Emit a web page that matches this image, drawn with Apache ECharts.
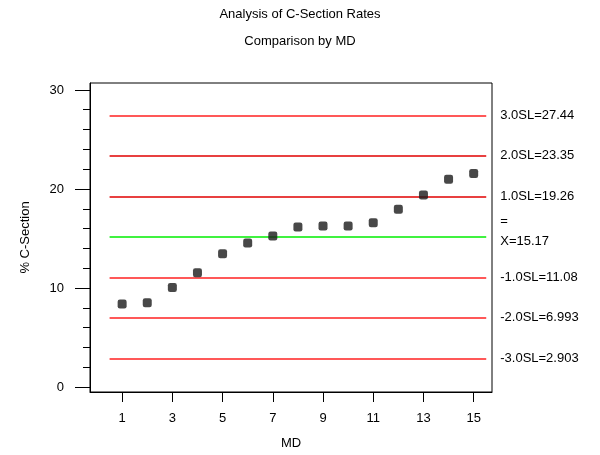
<!DOCTYPE html>
<html>
<head>
<meta charset="utf-8">
<script src="https://cdn.jsdelivr.net/npm/echarts@6/dist/echarts.min.js"></script>
<style>
  html, body { margin: 0; padding: 0; background: #fff; }
  #chart { width: 600px; height: 455px; }
</style>
</head>
<body>
<div id="chart"></div>
<script>
// rates per MD
const mds = [1, 2, 3, 4, 5, 6, 7, 8, 9, 10, 11, 12, 13, 14, 15]
const rates = [8.38, 8.52, 10.06, 11.55, 13.46, 14.54, 15.25, 16.16, 16.26, 16.26, 16.6, 17.94, 19.39, 20.97, 21.55]

// sigma limits (the centre one gets the X-double-bar label)
const limitNames = ['3.0SL', '2.0SL', '1.0SL', 'X', '-1.0SL', '-2.0SL', '-3.0SL']
const limitValues = [27.44, 23.35, 19.26, 15.17, 11.08, 6.993, 2.903]
const limitColors = ['#ff2020', '#e00000', '#e00000', '#00ee00', '#ff2020', '#ff2020', '#ff2020']

const xTicks = [1, 3, 5, 7, 9, 11, 13, 15]
const yMajor = [0, 10, 20, 30]
const yMinor = [2, 4, 6, 8, 12, 14, 16, 18, 22, 24, 26, 28]

const font = 'Liberation Sans, Arial, sans-serif'
const black = '#000'

// one empty series per limit, so each markLine keeps its own colour
const limitSeries = limitValues.map((v, i) => {
  const isMean = limitNames[i] === 'X'
  const s = {
    type: 'scatter',
    data: [],
    markLine: {
      silent: true,
      symbol: 'none',
      lineStyle: { type: 'solid', width: 1.5, color: limitColors[i] },
      label: {
        position: 'end',
        distance: 14,
        offset: isMean ? [0, 5] : [0, 0],
        formatter: limitNames[i] + '=' + v,
        fontFamily: font,
        fontSize: 13,
        color: black
      },
      data: [[{ coord: [0.5, v] }, { coord: [15.5, v] }]]
    }
  }
  if (isMean) {
    // double bar over the X
    s.markPoint = {
      silent: true,
      symbol: 'circle',
      symbolSize: 0,
      label: {
        show: true,
        position: 'right',
        distance: 14,
        offset: [0, -15],
        formatter: '=',
        fontFamily: font,
        fontSize: 13,
        color: black
      },
      data: [{ coord: [15.5, v] }]
    }
  }
  return s
})

const chart = echarts.init(document.getElementById('chart'))

chart.setOption({
  animation: false,
  title: {
    text: 'Analysis of C-Section Rates',
    subtext: 'Comparison by MD',
    left: 'center',
    top: 3,
    itemGap: 14,
    textStyle: { fontFamily: font, fontSize: 13, fontWeight: 'normal', color: black },
    subtextStyle: { fontFamily: font, fontSize: 13, color: black }
  },
  grid: {
    left: 90, right: 108, top: 83, bottom: 62,
    show: true, borderColor: black, borderWidth: 1
  },
  xAxis: {
    type: 'value',
    min: -0.28,
    max: 15.73,
    name: 'MD',
    nameLocation: 'middle',
    nameGap: 45,
    nameTextStyle: { fontFamily: font, fontSize: 13, color: black },
    axisLine: { onZero: false, lineStyle: { color: black } },
    axisTick: { customValues: xTicks, length: 10, lineStyle: { color: black } },
    axisLabel: { customValues: xTicks, margin: 20, fontFamily: font, fontSize: 13, color: black },
    splitLine: { show: false }
  },
  yAxis: [
    {
      type: 'value',
      min: -0.5,
      max: 30.7,
      name: '% C-Section',
      nameLocation: 'middle',
      nameGap: 58,
      nameTextStyle: { fontFamily: font, fontSize: 13, color: black },
      axisLine: { show: true, onZero: false, lineStyle: { color: black } },
      axisTick: { customValues: yMajor, length: 15, lineStyle: { color: black } },
      axisLabel: { customValues: yMajor, margin: 26, fontFamily: font, fontSize: 13, color: black },
      splitLine: { show: false }
    },
    {
      type: 'value',
      position: 'left',
      min: -0.5,
      max: 30.7,
      axisLine: { show: false, onZero: false },
      axisTick: { customValues: yMinor, length: 7, lineStyle: { color: black } },
      axisLabel: { show: false },
      splitLine: { show: false }
    }
  ],
  series: [
    {
      type: 'scatter',
      data: mds.map((md, i) => [md, rates[i]]),
      symbol: 'roundRect',
      symbolSize: 9,
      itemStyle: { color: '#1a1a1a' },
      z: 5
    }
  ].concat(limitSeries)
})
</script>
</body>
</html>
